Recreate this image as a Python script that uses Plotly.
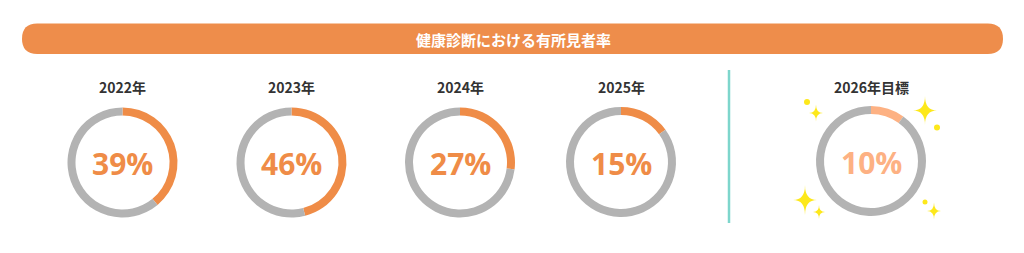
import plotly.graph_objects as go

# Health check: share of people with findings, by year
title_text = "健康診断における有所見者率"
years = ["2022年", "2023年", "2024年", "2025年", "2026年目標"]
rates = [39, 46, 27, 15, 10]
is_target = [False, False, False, False, True]

W, H = 1024, 253
centers_x = [122.5, 291.5, 460, 621, 871]
centers_y = [162.5, 162.5, 162.5, 162, 161]
R = 55

ORANGE = "#EF8C47"
ORANGE_LIGHT = "#FDB183"
GRAY = "#B3B3B3"
DARK = "#333333"
BANNER = "#EE8D4B"
TEAL = "#7ED6CC"
YELLOW = "#FDE81B"

fig = go.Figure()

# donut rings
for year, rate, tgt, cx, cy in zip(years, rates, is_target, centers_x, centers_y):
    col = ORANGE_LIGHT if tgt else ORANGE
    fig.add_trace(go.Pie(
        values=[rate, 100 - rate],
        marker=dict(colors=[col, GRAY], line=dict(width=0)),
        hole=47 / 55,
        sort=False,
        direction="clockwise",
        rotation=0,
        textinfo="none",
        hoverinfo="skip",
        showlegend=False,
        domain=dict(x=[(cx - R) / W, (cx + R) / W],
                    y=[1 - (cy + R) / H, 1 - (cy - R) / H]),
    ))
    fig.add_annotation(x=cx, y=87, text=f"<b>{year}</b>", showarrow=False,
                       font=dict(family="Noto Sans CJK JP", size=14, color=DARK),
                       xanchor="center", yanchor="middle")
    fig.add_annotation(x=cx, y=cy + 1, text=f"<b>{rate}%</b>", showarrow=False,
                       font=dict(family="Open Sans", size=30, color=col),
                       xanchor="center", yanchor="middle")

shapes = []
# title banner (pill)
x0, x1, y0, y1 = 22, 1003, 23.5, 54
r = (y1 - y0) / 2
shapes.append(dict(
    type="path", xref="x", yref="y", line=dict(width=0), fillcolor=BANNER,
    path=(f"M {x0 + r},{y0} L {x1 - r},{y0} "
          f"Q {x1},{y0} {x1},{(y0 + y1) / 2} Q {x1},{y1} {x1 - r},{y1} "
          f"L {x0 + r},{y1} Q {x0},{y1} {x0},{(y0 + y1) / 2} Q {x0},{y0} {x0 + r},{y0} Z"),
    layer="below"))
# divider before the target
shapes.append(dict(type="line", xref="x", yref="y", x0=729, x1=729, y0=70, y1=223,
                   line=dict(color=TEAL, width=2.5)))

# sparkles around the target ring: (cx, cy, half-width, half-height)
sparkles = [(816, 113, 7, 8.5), (925, 110.5, 12, 14.5), (805, 200, 12, 15),
            (819, 212, 6, 7), (934, 211, 7, 8.5)]
for sx, sy, hw, hh in sparkles:
    shapes.append(dict(
        type="path", xref="x", yref="y", line=dict(width=0), fillcolor=YELLOW,
        path=(f"M {sx},{sy - hh} Q {sx},{sy} {sx + hw},{sy} Q {sx},{sy} {sx},{sy + hh} "
              f"Q {sx},{sy} {sx - hw},{sy} Q {sx},{sy} {sx},{sy - hh} Z")))
dots = [(807, 102, 3), (937, 127.5, 3), (925, 202, 2.5)]
for dx, dy, dr in dots:
    shapes.append(dict(type="circle", xref="x", yref="y", x0=dx - dr, x1=dx + dr,
                       y0=dy - dr, y1=dy + dr, line=dict(width=0), fillcolor=YELLOW))

fig.add_annotation(x=513.5, y=39, text=f"<b>{title_text}</b>", showarrow=False,
                   font=dict(family="Noto Sans CJK JP", size=15, color="white"),
                   xanchor="center", yanchor="middle")

fig.update_layout(
    width=W, height=H,
    margin=dict(l=0, r=0, t=0, b=0),
    paper_bgcolor="white", plot_bgcolor="rgba(0,0,0,0)",
    shapes=shapes,
    xaxis=dict(range=[0, W], visible=False, fixedrange=True),
    yaxis=dict(range=[H, 0], visible=False, fixedrange=True),
)

fig.write_html("out.html", config={"displayModeBar": False})
